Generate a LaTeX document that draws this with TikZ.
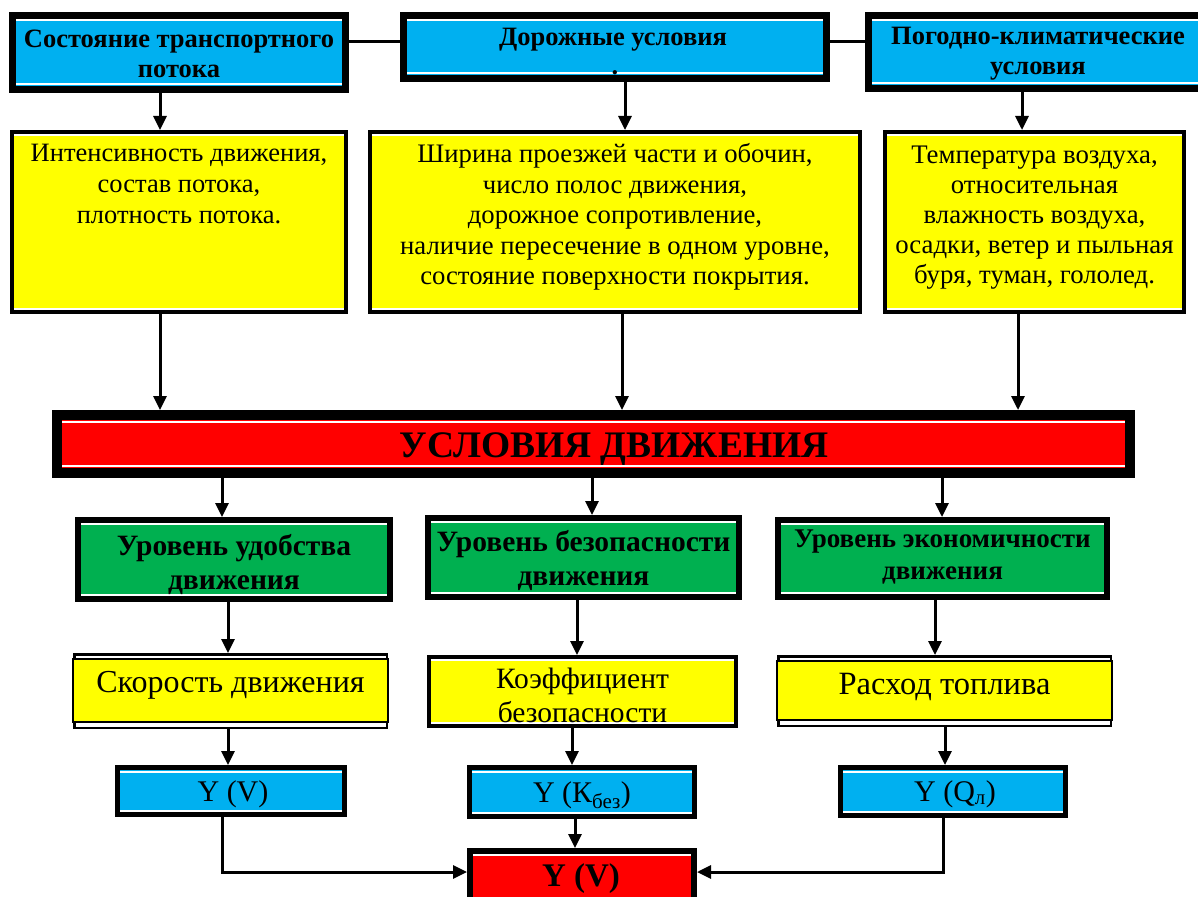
\documentclass[tikz,border=0pt]{standalone}
\usepackage{fontspec}
\setmainfont{Liberation Serif}
\usetikzlibrary{arrows.meta,calc}
\definecolor{cblue}{HTML}{00B0F0}
\definecolor{cyel}{HTML}{FFFF00}
\definecolor{cred}{HTML}{FF0000}
\definecolor{cgreen}{HTML}{00B050}
\tikzset{
  bx/.style={draw=black, line width=#1, inner sep=0pt},
  wl/.style={path picture={
    \draw[white,line width=2pt] ([yshift=-#1]path picture bounding box.north west) -- ([yshift=-#1]path picture bounding box.north east);
    \draw[white,line width=2pt] ([yshift=#1]path picture bounding box.south west) -- ([yshift=#1]path picture bounding box.south east);}},
  txt/.style={inner sep=0pt, align=center},
  arr/.style={line width=3pt, -{Triangle[width=13pt,length=14pt]}},
  ln/.style={line width=3pt},
}
\begin{document}
\begin{tikzpicture}[x=1pt,y=-1pt]
\useasboundingbox (0,0) rectangle (1198,896);
% top row
\node[bx=7pt, fill=cblue, wl=5pt, minimum width=333pt, minimum height=74pt] (t1) at (179,52.5) {};
\node[bx=7pt, fill=cblue, wl=5pt, minimum width=423pt, minimum height=63pt] (t2) at (615,47) {};
\node[bx=7pt, fill=cblue, wl=5pt, minimum width=333pt, minimum height=73pt] (t3) at (1035,52) {};
\node[txt, font=\bfseries\fontsize{26.5}{30}\selectfont] (t1t) at (179,54) {Состояние транспортного\\потока};
\node[txt, font=\bfseries\fontsize{26.5}{30}\selectfont] (t2t) at (613,40) {Дорожные условия};
\node[txt, font=\bfseries\fontsize{26.5}{30}\selectfont] (t2d) at (615,73) {.};
\node[txt, font=\bfseries\fontsize{26.5}{30}\selectfont] (t3t) at (1038,54) {Погодно-климатические\\условия};
\draw[ln] (t1.east |- 0,42) coordinate (l1a) -- (t2.west |- l1a);
\draw[ln] (t2.east |- 0,42) coordinate (l2a) -- (t3.west |- l2a);
% yellow row
\node[bx=4pt, fill=cyel, wl=3pt, minimum width=334pt, minimum height=180pt] (y1) at (179,222) {};
\node[bx=4pt, fill=cyel, wl=3pt, minimum width=490pt, minimum height=180pt] (y2) at (615,222) {};
\node[bx=4pt, fill=cyel, wl=3pt, minimum width=299pt, minimum height=180pt] (y3) at (1034.5,222) {};
\node[txt, font=\fontsize{26.5}{31}\selectfont] (y1t) at (179,184) {Интенсивность движения,\\состав потока,\\плотность потока.};
\node[txt, font=\fontsize{26.7}{30.5}\selectfont] (y2t) at (615,217) {Ширина проезжей части и обочин,\\число полос движения,\\дорожное сопротивление,\\наличие пересечение в одном уровне,\\состояние поверхности покрытия.};
\node[txt, font=\fontsize{26.8}{30}\selectfont] (y3t) at (1034.5,218) {Температура воздуха,\\относительная\\влажность воздуха,\\осадки, ветер и пыльная\\буря, туман, гололед.};
% arrows top -> yellow
\path (160,0) coordinate (xa) (625,0) coordinate (xb) (1022,0) coordinate (xc);
\draw[arr] (t1.south -| xa) -- (y1.north -| xa);
\draw[arr] (t2.south -| xb) -- (y2.north -| xb);
\draw[arr] (t3.south -| xc) -- (y3.north -| xc);
% red bar
\node[bx=10pt, fill=cred, wl=7pt, minimum width=1073pt, minimum height=58pt] (bar) at (593.5,444) {};
\node[txt, font=\bfseries\fontsize{37.5}{40}\selectfont] (bart) at (614,449) {УСЛОВИЯ ДВИЖЕНИЯ};
\path (160,0) coordinate (xd) (622,0) coordinate (xe) (1018,0) coordinate (xf);
\draw[arr] (y1.south -| xd) -- (bar.north -| xd);
\draw[arr] (y2.south -| xe) -- (bar.north -| xe);
\draw[arr] (y3.south -| xf) -- (bar.north -| xf);
% green
\node[bx=6pt, fill=cgreen, wl=4pt, minimum width=312pt, minimum height=79pt] (g1) at (234,559.5) {};
\node[bx=6pt, fill=cgreen, wl=4pt, minimum width=311pt, minimum height=79pt] (g2) at (583.5,557.5) {};
\node[bx=6pt, fill=cgreen, wl=4pt, minimum width=329pt, minimum height=77pt] (g3) at (942.5,558.5) {};
\node[txt, font=\bfseries\fontsize{29.5}{34}\selectfont] (g1t) at (234,564) {Уровень удобства\\движения};
\node[txt, font=\bfseries\fontsize{29.5}{34}\selectfont] (g2t) at (583.5,560) {Уровень безопасности\\движения};
\node[txt, font=\bfseries\fontsize{27}{32}\selectfont] (g3t) at (942.5,557) {Уровень экономичности\\движения};
\path (222,0) coordinate (xg) (592,0) coordinate (xh) (942,0) coordinate (xi);
\draw[arr] (bar.south -| xg) -- (g1.north -| xg);
\draw[arr] (bar.south -| xh) -- (g2.north -| xh);
\draw[arr] (bar.south -| xi) -- (g3.north -| xi);
% small yellow
\node[bx=2.5pt, fill=white, minimum width=312.5pt, minimum height=73.5pt] (s1f) at (230.5,691) {};
\node[bx=2pt, fill=cyel, minimum width=315pt, minimum height=63pt] (s1) at (230.5,690.5) {};
\node[bx=4pt, fill=cyel, wl=3pt, minimum width=307pt, minimum height=69pt] (s2) at (582.5,691.5) {};
\node[bx=2.5pt, fill=white, minimum width=332.5pt, minimum height=69.5pt] (s3f) at (944.5,691) {};
\node[bx=2pt, fill=cyel, minimum width=335pt, minimum height=59pt] (s3) at (944.5,690.5) {};
\node[txt, font=\fontsize{32}{34}\selectfont] (s1t) at (230.5,685) {Скорость движения};
\node[txt, font=\fontsize{29.5}{34}\selectfont] (s2t) at (582.5,695) {Коэффициент\\безопасности};
\node[txt, font=\fontsize{32.5}{34}\selectfont] (s3t) at (944.5,687) {Расход топлива};
\path (228,0) coordinate (xj) (577,0) coordinate (xk) (935,0) coordinate (xl);
\draw[arr] (g1.south -| xj) -- (s1f.north -| xj);
\draw[arr] (g2.south -| xk) -- (s2.north -| xk);
\draw[arr] (g3.south -| xl) -- (s3f.north -| xl);
% blue
\node[bx=5pt, fill=cblue, wl=4pt, minimum width=227pt, minimum height=47pt] (b1) at (231,791) {};
\node[bx=5pt, fill=cblue, wl=4pt, minimum width=225pt, minimum height=49pt] (b2) at (582,792) {};
\node[bx=5pt, fill=cblue, wl=4pt, minimum width=225pt, minimum height=48pt] (b3) at (953,791.5) {};
\node[txt, font=\fontsize{30}{32}\selectfont] (b1t) at (233,794) {Y (V)};
\node[txt, font=\fontsize{30}{32}\selectfont] (b2t) at (582,795) {Y (К\textsubscript{без})};
\node[txt, font=\fontsize{30}{32}\selectfont] (b3t) at (955,794) {Y (Q\textsubscript{л})};
\path (228,0) coordinate (xm) (572,0) coordinate (xn) (945,0) coordinate (xo);
\draw[arr] (s1f.south -| xm) -- (b1.north -| xm);
\draw[arr] (s2.south -| xn) -- (b2.north -| xn);
\draw[arr] (s3f.south -| xo) -- (b3.north -| xo);
% final
\node[bx=6pt, fill=cred, wl=4pt, minimum width=224pt, minimum height=51pt] (f) at (582,876.5) {};
\node[txt, font=\bfseries\fontsize{33}{34}\selectfont] (ft) at (581,879) {Y (V)};
\path (575,0) coordinate (xp) (222,0) coordinate (xq) (943,0) coordinate (xr) (0,872) coordinate (yf);
\draw[arr] (b2.south -| xp) -- (f.north -| xp);
\draw[arr] (b1.south -| xq) -- (xq |- yf) -- (f.west |- yf);
\draw[arr] (b3.south -| xr) -- (xr |- yf) -- (f.east |- yf);
\end{tikzpicture}
\end{document}
